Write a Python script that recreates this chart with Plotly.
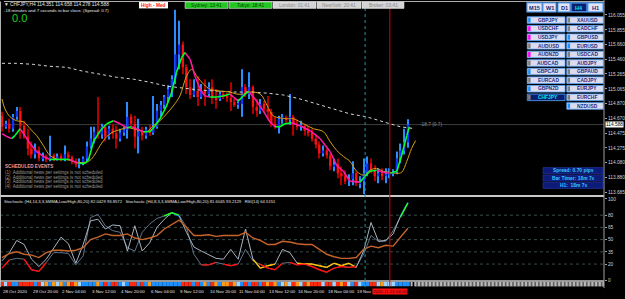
import plotly.graph_objects as go

W, H = 625, 299

# ---------------- data ----------------
header_text = "▼ CHFJPY,H4 114.351 114.658 114.278 114.588"
timer_text = "-18 minutes and 7 seconds to bar close. (Spread: 0.7)"

bar_open = [114.705, 114.559, 114.599, 114.533, 114.692, 114.771, 114.573, 114.427, 114.268, 114.189,
            114.242, 114.136, 114.162, 114.122, 114.175, 114.136, 114.162, 114.122, 114.189, 114.149,
            114.096, 114.056, 114.083, 114.136, 114.295, 114.400, 114.493, 114.453, 114.559, 114.427,
            114.533, 114.467, 114.400, 114.480, 114.520, 114.692, 114.599, 114.427, 114.493, 114.440,
            114.520, 114.480, 114.559, 114.771, 114.851, 114.956, 115.062, 115.195, 115.526, 115.658,
            115.354, 115.089, 114.983, 115.036, 114.956, 115.036, 114.996, 115.089, 114.956, 114.930,
            114.996, 114.970, 114.943, 114.890, 114.851, 114.864, 115.089, 114.996, 115.089, 114.824,
            114.771, 114.864, 114.798, 114.758, 114.599, 114.559, 114.665, 114.678, 114.652, 114.692,
            114.586, 114.559, 114.573, 114.506, 114.480, 114.400, 114.321, 114.202, 114.242, 114.175,
            114.030, 114.056, 113.937, 113.897, 113.831, 113.858, 113.937, 113.805, 113.831, 113.937,
            114.069, 113.977, 113.897, 113.937, 113.897, 113.924, 113.937, 113.950, 114.136, 114.242,
            114.351]
bar_high = [114.758, 114.639, 114.665, 114.731, 114.824, 114.824, 114.639, 114.533, 114.361, 114.334,
            114.295, 114.215, 114.189, 114.440, 114.202, 114.202, 114.202, 114.308, 114.228, 114.175,
            114.136, 114.136, 114.162, 114.361, 114.559, 114.559, 114.956, 114.599, 114.586, 114.573,
            114.599, 114.573, 114.533, 114.559, 114.890, 114.731, 114.705, 114.665, 114.559, 114.559,
            114.586, 114.970, 114.864, 114.904, 114.983, 115.115, 115.248, 116.122, 115.976, 115.698,
            115.393, 115.195, 115.195, 115.235, 115.129, 115.195, 115.155, 115.195, 115.062, 115.036,
            115.036, 115.009, 115.155, 114.930, 114.930, 115.327, 115.129, 115.288, 115.115, 114.930,
            114.930, 114.904, 114.970, 114.798, 114.692, 114.705, 114.731, 114.705, 114.996, 114.718,
            114.652, 114.639, 114.599, 114.573, 114.533, 114.453, 114.361, 114.308, 114.268, 114.202,
            114.136, 114.136, 114.030, 113.977, 113.924, 114.096, 113.964, 113.897, 114.136, 114.162,
            114.136, 114.043, 114.003, 114.003, 114.003, 114.003, 113.990, 114.228, 114.334, 114.533,
            114.658]
bar_low = [114.493, 114.533, 114.480, 114.493, 114.652, 114.400, 114.400, 114.175, 114.136, 114.136,
           114.096, 114.096, 114.083, 114.096, 114.096, 114.109, 114.096, 114.096, 114.109, 114.056,
           114.016, 114.003, 114.043, 114.096, 114.268, 114.334, 114.400, 114.400, 114.361, 114.387,
           114.400, 114.268, 114.361, 114.440, 114.400, 114.559, 114.268, 114.202, 114.374, 114.400,
           114.440, 114.453, 114.533, 114.692, 114.798, 114.890, 114.956, 115.129, 115.327, 115.261,
           114.996, 114.930, 114.956, 114.837, 114.930, 114.837, 114.956, 114.864, 114.798, 114.904,
           114.930, 114.890, 114.771, 114.824, 114.798, 114.692, 114.956, 114.930, 114.731, 114.692,
           114.731, 114.758, 114.665, 114.559, 114.533, 114.467, 114.599, 114.612, 114.586, 114.440,
           114.520, 114.506, 114.440, 114.427, 114.361, 114.268, 114.136, 114.162, 114.136, 113.977,
           113.964, 113.871, 113.778, 113.791, 113.765, 113.778, 113.765, 113.738, 113.659, 113.897,
           113.937, 113.831, 113.805, 113.844, 113.805, 113.871, 113.897, 113.924, 114.069, 114.189,
           114.278]
bar_close = [114.559, 114.599, 114.533, 114.692, 114.771, 114.573, 114.427, 114.268, 114.189, 114.242,
             114.136, 114.162, 114.122, 114.175, 114.136, 114.162, 114.122, 114.189, 114.149, 114.096,
             114.056, 114.083, 114.136, 114.295, 114.400, 114.493, 114.453, 114.559, 114.427, 114.533,
             114.467, 114.400, 114.480, 114.520, 114.692, 114.599, 114.427, 114.493, 114.440, 114.520,
             114.480, 114.559, 114.771, 114.851, 114.956, 115.062, 115.195, 115.526, 115.658, 115.354,
             115.089, 114.983, 115.036, 114.956, 115.036, 114.996, 115.089, 114.956, 114.930, 114.996,
             114.970, 114.943, 114.890, 114.851, 114.864, 115.089, 114.996, 115.089, 114.824, 114.771,
             114.864, 114.798, 114.758, 114.599, 114.559, 114.665, 114.678, 114.652, 114.692, 114.586,
             114.559, 114.573, 114.506, 114.480, 114.400, 114.321, 114.202, 114.242, 114.175, 114.030,
             114.056, 113.937, 113.897, 113.831, 113.858, 113.937, 113.805, 113.831, 113.937, 114.069,
             113.977, 113.897, 113.937, 113.897, 113.924, 113.937, 113.950, 114.136, 114.242, 114.351,
             114.588]

fast_ma_x = [0, 1.3, 2.6, 3.5, 4.9, 6.2, 7.6, 9.4, 11.2, 13, 15.7, 18.4, 20.7, 22.5, 23.4, 24.8, 26.6, 28.4,
             30.2, 32, 33.8, 35.1, 36.5, 38.3, 40.1, 41.5, 42.8, 44.6, 46, 47.3, 48.7, 49.6, 51, 52.3, 53.7,
             55, 56.4, 58.2, 60, 61.8, 62.7, 64, 65.4, 66.8, 69, 70.8, 72.6, 74, 75.3, 76.7, 78.5, 80.8, 83.5,
             86.2, 88.9, 90.7, 92.5, 94.3, 97, 98.4, 99.7, 101.5, 103.3, 105.1, 107, 108.3, 109.7, 110.4]
fast_ma_y = [114.467, 114.427, 114.400, 114.440, 114.533, 114.440, 114.334, 114.228, 114.162, 114.122,
             114.122, 114.122, 114.069, 114.069, 114.109, 114.361, 114.506, 114.599, 114.639, 114.599,
             114.546, 114.559, 114.533, 114.493, 114.493, 114.573, 114.665, 114.837, 115.023, 115.288,
             115.486, 115.552, 115.460, 115.235, 115.062, 114.970, 114.956, 114.956, 114.970, 114.996,
             114.956, 114.904, 114.970, 115.036, 114.904, 114.771, 114.625, 114.559, 114.559, 114.599,
             114.612, 114.573, 114.506, 114.400, 114.228, 114.043, 113.964, 113.831, 113.818, 113.897,
             113.964, 113.977, 113.950, 113.937, 113.964, 114.175, 114.440, 114.559]

slow_ma_x = [0, 0.8, 2.2, 4, 5.8, 7.6, 9.4, 11.2, 13, 15.3, 17.5, 20.2, 23.4, 24.8, 26.6, 28.4, 30.2, 32,
             33.8, 35.6, 37.4, 39.2, 41, 42.8, 44.6, 46.4, 48.2, 50, 51.4, 52.8, 54.6, 56.4, 59.1, 61.8,
             63.6, 65.4, 67.2, 70, 71.9, 73.5, 75.3, 77.2, 79, 81.7, 84.4, 87.1, 88.9, 90.7, 92.5, 94.3,
             96.1, 98, 99.7, 101.5, 103.3, 105.1, 107, 108.3, 109.7, 111, 112.1]
slow_ma_y = [114.930, 114.798, 114.692, 114.639, 114.625, 114.533, 114.440, 114.308, 114.175, 114.122,
             114.122, 114.083, 114.096, 114.162, 114.308, 114.427, 114.493, 114.520, 114.546, 114.533,
             114.506, 114.493, 114.573, 114.639, 114.731, 114.837, 114.970, 115.235, 115.327, 115.235,
             115.129, 115.062, 115.036, 115.023, 114.996, 114.996, 115.023, 114.996, 114.837, 114.705,
             114.678, 114.665, 114.665, 114.599, 114.533, 114.493, 114.361, 114.242, 114.162, 114.096,
             113.964, 113.911, 113.977, 114.003, 113.964, 113.950, 113.937, 113.950, 114.096, 114.268,
             114.374]

long_ma_x = [0, 4, 8.5, 13, 17.5, 22, 26.6, 31, 35.6, 40, 44.6, 49, 53.7, 58.2, 62.7, 67.2, 71.7, 76.3,
             80.8, 85.3, 89.8, 94.3, 98.8, 103.3, 107.9, 111.9]
long_ma_y = [115.407, 115.407, 115.393, 115.367, 115.354, 115.301, 115.261, 115.221, 115.195, 115.155,
             115.102, 115.076, 115.049, 115.036, 115.023, 115.023, 115.009, 114.983, 114.930, 114.864,
             114.798, 114.731, 114.692, 114.625, 114.559, 114.533]

osc_x = [0, 2, 4, 6, 8, 10, 12, 14, 16, 18, 20, 22, 24, 26, 28, 30, 32, 34, 36, 38, 40, 42, 44, 46, 48,
         50, 52, 54, 56, 58, 60, 62, 64, 66, 68, 70, 72, 74, 76, 78, 80, 82, 84, 86, 88, 90, 92, 94, 96,
         98, 100, 102, 104, 106, 108, 110]
stoch_fast = [24, 34, 49, 44, 26, 17, 26, 40, 53, 45, 21, 44, 73, 75, 63, 68, 67, 36, 67, 36, 46, 65, 75,
              83, 79, 59, 41, 36, 31, 27, 26, 38, 26, 63, 26, 15, 18, 20, 38, 34, 21, 20, 20, 18, 16, 21,
              18, 21, 16, 36, 71, 48, 49, 57, 79, 95]
stoch_slow = [15, 25, 27, 26, 13, 11, 22, 34, 34, 33, 19, 30, 77, 81, 67, 61, 59, 40, 36, 59, 69, 76, 79,
              83, 80, 65, 32, 19, 19, 22, 20, 18, 20, 38, 24, 20, 15, 13, 21, 22, 19, 20, 17, 13, 10, 15,
              17, 16, 17, 32, 55, 48, 48, 61, 78, 95]
rsi14 = [28, 33, 35, 32, 31, 28, 34, 37, 37, 36, 37, 40, 50, 53, 57, 55, 55, 57, 52, 50, 52, 55, 63, 69,
         74, 65, 55, 55, 56, 54, 55, 55, 55, 59, 52, 49, 44, 44, 48, 47, 45, 44, 44, 38, 32, 29, 27, 27,
         28, 38, 42, 40, 43, 42, 53, 64]

price_ticks = [116.055, 115.855, 115.660, 115.460, 115.265, 115.065, 114.870, 114.670, 114.475,
               114.275, 114.080, 113.880, 113.685]
osc_ticks = [100, 80, 65, 50, 35, 20, 0]
osc_levels = [80, 65, 50, 35, 20]

date_labels = ["28 Oct 2020", "29 Oct 20:00", "2 Nov 04:00", "3 Nov 12:00", "4 Nov 20:00", "6 Nov 04:00",
               "9 Nov 12:00", "10 Nov 20:00", "11 Nov 04:00", "13 Nov 12:00", "16 Nov 20:00",
               "18 Nov 04:00", "19 Nov 12:00"]
date_label_bars = [0, 8, 16, 24, 32, 40, 48, 56, 64, 72, 80, 88, 96]
red_line_bar = 105.1
red_line_label = "2020.11.20 04:00"
teal_line_bar = 98.4

pairs_left = ["GBPJPY", "USDCHF", "USDJPY", "AUDUSD", "AUDNZD", "AUDCAD", "GBPCAD", "EURCAD", "GBPNZD", "CHFJPY"]
pairs_left_flag = ["#1e90ff", "#ff00ff", "#ff00ff", "#808080", "#ff00ff", "#808080", "#1e90ff", "#808080", "#1e90ff", "#808080"]
pairs_right = ["XAUUSD", "CADCHF", "GBPUSD", "EURUSD", "USDCAD", "AUDJPY", "GBPAUD", "CADJPY", "EURJPY", "EURCHF", "NZDUSD"]
pairs_right_flag = ["#808080", "#808080", "#1e90ff", "#1e90ff", "#808080", "#808080", "#808080", "#808080", "#808080", "#808080", "#1e90ff"]
selected_pair = "CHFJPY"
timeframes = ["M15", "W1", "D1", "H4", "H1"]
selected_tf = "H4"

sessions = ["Sydney: 13:41", "Tokyo: 18:41", "London: 01:41", "NewYork: 20:41", "Broker: 03:41"]
sessions_open = [True, True, False, False, False]
info_lines = ["Spread: 0.70 pips", "Bar Timer: 18m 7s", "H1:  18m 7s"]
news_title = "SCHEDULED EVENTS"
news_lines = ["(1)  Additional news per settings is not scheduled",
              "(2)  Additional news per settings is not scheduled",
              "(3)  Additional news per settings is not scheduled",
              "(4)  Additional news per settings is not scheduled"]
osc_header = ("Stochastic (H4,14,3,3,SMMA,Low/High,80,20) 82.0429 93.8572   "
              "Stochastic (H4,8,3,3,SMMA,Low/High,80,20) 81.6045 93.2129   RSI(14) 64.5151")
pips_text = "-18.7 (0.7)"

# ---------------- layout helpers ----------------
FONT = "Liberation Sans"
PLOT_R = 604          # right edge of plotting area (px)
BAR0_PX, BAR_PX = 2.0, 3.69
x_lo = -BAR0_PX / BAR_PX
x_hi = x_lo + PLOT_R / BAR_PX


def fx(x):
    return x / W


def fy(y):
    return 1 - y / H


fig = go.Figure()

# ---- candles (wicks + bodies) ----
n = len(bar_close)
idx = list(range(n))
is_up = [c >= o for o, c in zip(bar_open, bar_close)]
fig.add_trace(go.Bar(x=idx, y=[h - l for h, l in zip(bar_high, bar_low)], base=bar_low, width=0.3,
                     marker=dict(color=["#2a8cff" if u else "#b00000" for u in is_up], line_width=0),
                     xaxis="x", yaxis="y", hoverinfo="skip"))
fig.add_trace(go.Bar(x=idx, y=[max(abs(c - o), 0.006) for o, c in zip(bar_open, bar_close)],
                     base=[min(o, c) for o, c in zip(bar_open, bar_close)], width=0.62,
                     marker=dict(color=["#1030ff" if u else "#ff1010" for u in is_up], line_width=0),
                     xaxis="x", yaxis="y", hoverinfo="skip"))

# ---- moving averages ----
fig.add_trace(go.Scatter(x=long_ma_x, y=long_ma_y, mode="lines", line=dict(color="#d8d8d8", width=1, dash="dot"),
                         xaxis="x", yaxis="y", hoverinfo="skip"))
fig.add_trace(go.Scatter(x=slow_ma_x, y=slow_ma_y, mode="lines", line=dict(color="#d4a017", width=1, shape="spline"),
                         xaxis="x", yaxis="y", hoverinfo="skip"))


def segments(xs, ys, keep):
    sx, sy = [], []
    for k in range(len(xs) - 1):
        if keep(ys[k], ys[k + 1]):
            sx += [xs[k], xs[k + 1], None]
            sy += [ys[k], ys[k + 1], None]
    return sx, sy


gx, gy = segments(fast_ma_x, fast_ma_y, lambda a, b: b >= a)
mx, my = segments(fast_ma_x, fast_ma_y, lambda a, b: b < a)
fig.add_trace(go.Scatter(x=mx, y=my, mode="lines", line=dict(color="#ff1aa0", width=1.6),
                         xaxis="x", yaxis="y", hoverinfo="skip"))
fig.add_trace(go.Scatter(x=gx, y=gy, mode="lines", line=dict(color="#00ff30", width=1.6),
                         xaxis="x", yaxis="y", hoverinfo="skip"))

# ---- oscillator panel ----
fig.add_trace(go.Scatter(x=osc_x, y=stoch_slow, mode="lines", line=dict(color="#5f7388", width=1),
                         xaxis="x2", yaxis="y2", hoverinfo="skip"))
fig.add_trace(go.Scatter(x=osc_x, y=stoch_fast, mode="lines", line=dict(color="#aab4bf", width=1),
                         xaxis="x2", yaxis="y2", hoverinfo="skip"))
fig.add_trace(go.Scatter(x=osc_x, y=rsi14, mode="lines", line=dict(color="#c8642a", width=1.4),
                         xaxis="x2", yaxis="y2", hoverinfo="skip"))
for ys, col_lo, col_hi in [(stoch_fast, "#ffc000", "#2050ff"), (stoch_slow, "#ff1010", "#20ff20")]:
    lx, ly = segments(osc_x, ys, lambda a, b: (a + b) / 2 <= 20.5)
    hx, hy = segments(osc_x, ys, lambda a, b: (a + b) / 2 >= 79.5)
    fig.add_trace(go.Scatter(x=lx, y=ly, mode="lines", line=dict(color=col_lo, width=1.4),
                             xaxis="x2", yaxis="y2", hoverinfo="skip"))
    fig.add_trace(go.Scatter(x=hx, y=hy, mode="lines", line=dict(color=col_hi, width=1.4),
                             xaxis="x2", yaxis="y2", hoverinfo="skip"))

# ---- heat strip under the oscillator ----
strip_cols = []
for o, c in zip(bar_open, bar_close):
    d = c - o
    strip_cols.append("#1e90ff" if d > 0.05 else "#9fd4ff" if d >= 0 else "#ff9a1a" if d > -0.05 else "#ff2a10")
fig.add_trace(go.Bar(x=idx, y=[1] * n, width=1.0, marker=dict(color=strip_cols, line_width=0),
                     xaxis="x3", yaxis="y3", hoverinfo="skip"))
empty_slots = list(range(n, int(x_hi) + 1))
fig.add_trace(go.Bar(x=empty_slots, y=[1] * len(empty_slots), width=0.55,
                     marker=dict(color="#b8b8b8", line_width=0), xaxis="x3", yaxis="y3", hoverinfo="skip"))

# ---------------- shapes ----------------
shapes = []
shapes.append(dict(type="rect", xref="paper", yref="paper", x0=fx(415), x1=fx(PLOT_R), y0=fy(289.5), y1=fy(284.5),
                   fillcolor="#606060", line_width=0, layer="below"))
shapes.append(dict(type="line", xref="paper", yref="paper", x0=fx(4), x1=fx(PLOT_R), y0=fy(1.5), y1=fy(1.5),
                   line=dict(color="#b0b0b0", width=1)))
shapes.append(dict(type="line", xref="paper", yref="paper", x0=fx(0.5), x1=fx(0.5), y0=fy(1.5), y1=fy(290),
                   line=dict(color="#b0b0b0", width=1)))
shapes.append(dict(type="line", xref="paper", yref="paper", x0=0, x1=fx(PLOT_R), y0=fy(198), y1=fy(198),
                   line=dict(color="#c8c8c8", width=2)))
shapes.append(dict(type="line", xref="paper", yref="paper", x0=0, x1=fx(PLOT_R), y0=fy(283.8), y1=fy(283.8),
                   line=dict(color="#c8c8c8", width=1.5)))
shapes.append(dict(type="line", xref="paper", yref="paper", x0=fx(PLOT_R), x1=fx(PLOT_R), y0=fy(0), y1=fy(291),
                   line=dict(color="#a0a0a0", width=1)))
shapes.append(dict(type="line", xref="paper", yref="y", x0=0, x1=fx(PLOT_R), y0=bar_close[-1], y1=bar_close[-1],
                   line=dict(color="#3c3c3c", width=1), layer="below"))
for lv in osc_levels:
    shapes.append(dict(type="line", xref="paper", yref="y2", x0=0, x1=fx(PLOT_R), y0=lv, y1=lv,
                       line=dict(color="#3a4a4a", width=1, dash="dot"), layer="below"))
shapes.append(dict(type="line", xref="x", yref="paper", x0=teal_line_bar, x1=teal_line_bar, y0=fy(290), y1=fy(3),
                   line=dict(color="#1a9a9a", width=1, dash="dot")))
shapes.append(dict(type="line", xref="x", yref="paper", x0=red_line_bar, x1=red_line_bar, y0=fy(290), y1=fy(3),
                   line=dict(color="#e00000", width=1)))

annotations = []


def text(x, y, s, size=5, color="#d0d0d0", anchor="left", bg=None, bold=False, **kw):
    d = dict(x=x, y=y, xref=kw.pop("xref", "paper"), yref=kw.pop("yref", "paper"), text=("<b>%s</b>" % s) if bold else s,
             showarrow=False, xanchor=anchor, yanchor="middle", borderpad=0,
             font=dict(family=FONT, size=size, color=color))
    if bg:
        d["bgcolor"] = bg
    d.update(kw)
    annotations.append(d)


text(fx(3), fy(4.5), header_text, size=4.8, color="#e6e6e6")
text(fx(3), fy(11), timer_text, size=4.4, color="#e6e6e6")
text(fx(11), fy(18.5), "0.0", size=11, color="#18d018")

shapes.append(dict(type="rect", xref="paper", yref="paper", x0=fx(139), x1=fx(168), y0=fy(8.5), y1=fy(2),
                   fillcolor="#ffffff", line_width=0))
text(fx(153.5), fy(5.3), "High - Med", size=4.8, color="#ff2020", anchor="center", bold=True)

sess_edges = [185, 229, 273, 317, 362, 405]
for k, s in enumerate(sessions):
    x0, x1 = sess_edges[k], sess_edges[k + 1] - 1
    fill = "#22c822" if sessions_open[k] else "#d4d4d4"
    shapes.append(dict(type="rect", xref="paper", yref="paper", x0=fx(x0), x1=fx(x1), y0=fy(8.5), y1=fy(2),
                       fillcolor=fill, line=dict(color="#f0f0f0", width=0.5)))
    text(fx((x0 + x1) / 2), fy(5.3), s, size=4.8, color="#0a3a0a" if sessions_open[k] else "#8a8a8a", anchor="center")

tf_edges = [(527, 542), (543, 556), (558, 570), (571, 587), (588, 603)]
for tf, (x0, x1) in zip(timeframes, tf_edges):
    sel = tf == selected_tf
    shapes.append(dict(type="rect", xref="paper", yref="paper", x0=fx(x0), x1=fx(x1), y0=fy(12), y1=fy(3),
                       fillcolor="#0a1f6e" if sel else "#e4e4f4",
                       line=dict(color="#5aa8ff", width=1.2)))
    text(fx((x0 + x1) / 2), fy(7.6), tf, size=5.6, color="#00e4ff" if sel else "#14287a", anchor="center", bold=True)

ROW0, ROW_H = 17.0, 8.67


def pair_button(name, flag, x0, x1, row):
    y0 = ROW0 + row * ROW_H
    y1 = y0 + 6.6
    sel = name == selected_pair
    shapes.append(dict(type="rect", xref="paper", yref="paper", x0=fx(x0), x1=fx(x1), y0=fy(y1), y1=fy(y0),
                       fillcolor="#0a1f6e" if sel else "#dcdcf0",
                       line=dict(color="#5aa8ff", width=0.8)))
    shapes.append(dict(type="rect", xref="paper", yref="paper", x0=fx(x0 + 0.8), x1=fx(x0 + 3.3),
                       y0=fy(y1 - 0.8), y1=fy(y0 + 0.8), fillcolor=flag, line_width=0))
    text(fx((x0 + 4 + x1) / 2), fy((y0 + y1) / 2 + 0.2), name, size=4.9,
         color="#00e4ff" if sel else "#1a2a80", anchor="center", bold=True)


for r, (nm, fl) in enumerate(zip(pairs_left, pairs_left_flag)):
    pair_button(nm, fl, 527.3, 565.0, r)
for r, (nm, fl) in enumerate(zip(pairs_right, pairs_right_flag)):
    pair_button(nm, fl, 566.8, 603.3, r)

for k, s in enumerate(info_lines):
    y0 = 169.3 + k * 7.4
    shapes.append(dict(type="rect", xref="paper", yref="paper", x0=fx(543), x1=fx(603), y0=fy(y0 + 6.2), y1=fy(y0),
                       fillcolor="#0c1a78", line=dict(color="#2a3ca8", width=0.6)))
    text(fx(573), fy(y0 + 3.2), s, size=4.9, color="#38c8ff", anchor="center", bold=True)

text(fx(3.5), fy(168), news_title, size=4.6, color="#f09a9a", bold=True)
for k, s in enumerate(news_lines):
    text(fx(3.5), fy(174 + k * 4.9), s, size=4.5, color="#9a9a9a")

text(fx(3), fy(204), osc_header, size=4.2, color="#e0e0e0")

text(113.0, bar_close[-1], pips_text, size=4.8, color="#8c8c8c", xref="x", yref="y")
text(fx(614.5), fy(125.8), "%.3f" % bar_close[-1], size=4.8, color="#000000", anchor="center", bg="#ffffff")

for b, s in zip(date_label_bars, date_labels):
    text(b, fy(294.5), s, size=4.4, color="#e6e6e6", xref="x")
text(red_line_bar, fy(294.5), red_line_label, size=4.4, color="#3a0000", anchor="center", xref="x", bg="#ff1010")

axis_common = dict(showgrid=False, zeroline=False, fixedrange=True)
fig.update_layout(
    width=W, height=H, margin=dict(l=0, r=0, t=0, b=0),
    paper_bgcolor="#000000", plot_bgcolor="#000000",
    showlegend=False, barmode="overlay",
    xaxis=dict(domain=[0, fx(PLOT_R)], range=[x_lo, x_hi], visible=False, anchor="y", **axis_common),
    xaxis2=dict(domain=[0, fx(PLOT_R)], range=[x_lo, x_hi], visible=False, anchor="y2", matches="x", **axis_common),
    xaxis3=dict(domain=[0, fx(PLOT_R)], range=[x_lo, x_hi], visible=False, anchor="y3", matches="x", **axis_common),
    yaxis=dict(domain=[fy(197), fy(3)], range=[113.646, 116.214], side="right", anchor="x",
               tickvals=price_ticks, ticktext=["%.3f" % v for v in price_ticks],
               tickfont=dict(family=FONT, size=4.8, color="#d0d0d0"), ticks="outside", ticklen=2,
               tickcolor="#a0a0a0", showline=False, **axis_common),
    yaxis2=dict(domain=[fy(283.2), fy(199)], range=[0, 102.3], side="right", anchor="x2",
                tickvals=osc_ticks, ticktext=[str(v) for v in osc_ticks],
                tickfont=dict(family=FONT, size=4.8, color="#d0d0d0"), ticks="outside", ticklen=2,
                tickcolor="#a0a0a0", showline=False, **axis_common),
    yaxis3=dict(domain=[fy(289.5), fy(284.5)], range=[0, 1], visible=False, anchor="x3", **axis_common),
    shapes=shapes, annotations=annotations,
)

fig.write_html("out.html")
